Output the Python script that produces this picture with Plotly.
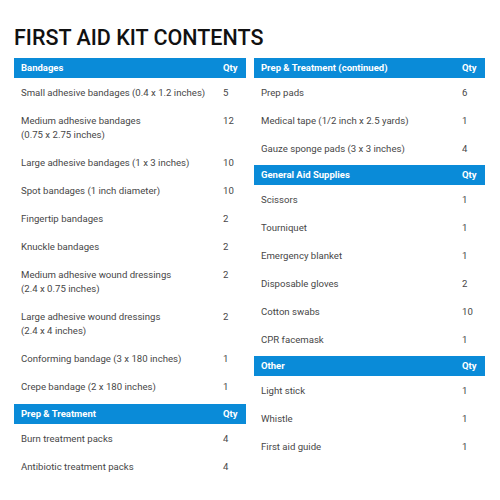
import plotly.graph_objects as go

title = "FIRST AID KIT CONTENTS"
qty_head = "Qty"

# each column is a list of sections, a row with two lines has a "|" in the name
left_heads = ["Bandages", "Prep & Treatment"]
left_items = [
    ["Small adhesive bandages (0.4 x 1.2 inches)",
     "Medium adhesive bandages|(0.75 x 2.75 inches)",
     "Large adhesive bandages (1 x 3 inches)",
     "Spot bandages (1 inch diameter)",
     "Fingertip bandages",
     "Knuckle bandages",
     "Medium adhesive wound dressings|(2.4 x 0.75 inches)",
     "Large adhesive wound dressings|(2.4 x 4 inches)",
     "Conforming bandage (3 x 180 inches)",
     "Crepe bandage (2 x 180 inches)"],
    ["Burn treatment packs", "Antibiotic treatment packs"],
]
left_qty = [[5, 12, 10, 10, 2, 2, 2, 2, 1, 1], [4, 4]]

right_heads = ["Prep & Treatment (continued)", "General Aid Supplies", "Other"]
right_items = [
    ["Prep pads", "Medical tape (1/2 inch x 2.5 yards)", "Gauze sponge pads (3 x 3 inches)"],
    ["Scissors", "Tourniquet", "Emergency blanket", "Disposable gloves", "Cotton swabs", "CPR facemask"],
    ["Light stick", "Whistle", "First aid guide"],
]
right_qty = [[6, 1, 4], [1, 1, 1, 2, 10, 1], [1, 1, 1]]

BLUE = "#0a8bd8"
GREY = "#474747"
FONT = "Roboto"
SIZE = 9.6
HEAD_SIZE = 9.5


def add_column(fig, heads, items, qtys, x0, width, section_gap):
    text_x = x0 + 7
    qty_x = x0 + width - 23
    y = 68
    for head, rows, nums in zip(heads, items, qtys):
        fig.add_trace(go.Bar(x=[width], y=[y], base=[x0], width=[20], orientation="h",
                             marker=dict(color=BLUE, line=dict(width=0))))
        fig.add_trace(go.Scatter(x=[text_x, qty_x], y=[y + 1, y + 1], mode="text", text=[head, qty_head],
                                 textposition="middle right",
                                 textfont=dict(family=FONT, size=HEAD_SIZE, color="white", weight=700)))
        y += 25
        for row, n in zip(rows, nums):
            lines = row.split("|")
            ys = [y + 1 + 14 * i for i in range(len(lines))]
            fig.add_trace(go.Scatter(x=[text_x] * len(lines), y=ys, mode="text", text=lines,
                                     textposition="middle right",
                                     textfont=dict(family=FONT, size=SIZE, color=GREY)))
            fig.add_trace(go.Scatter(x=[qty_x], y=[y + 1], mode="text", text=[str(n)],
                                     textposition="middle right",
                                     textfont=dict(family=FONT, size=SIZE, color=GREY)))
            y += 28 + 14 * (len(lines) - 1)
        y += section_gap - 28


fig = go.Figure()
add_column(fig, left_heads, left_items, left_qty, 14, 232, 27)
add_column(fig, right_heads, right_items, right_qty, 254, 231, 26)

fig.add_annotation(x=12, y=37, xref="x", yref="y", text=title, showarrow=False, xanchor="left",
                   font=dict(family=FONT, size=21.5, color="#111111", weight=500))

fig.update_layout(width=500, height=500, margin=dict(l=0, r=0, t=0, b=0), showlegend=False,
                  plot_bgcolor="white", paper_bgcolor="white", barmode="overlay",
                  xaxis=dict(range=[0, 500], visible=False, fixedrange=True),
                  yaxis=dict(range=[500, 0], visible=False, fixedrange=True))
fig.write_html("out.html", config=dict(displayModeBar=False),
               post_script="document.body.style.margin='0';document.body.style.overflow='hidden';")
